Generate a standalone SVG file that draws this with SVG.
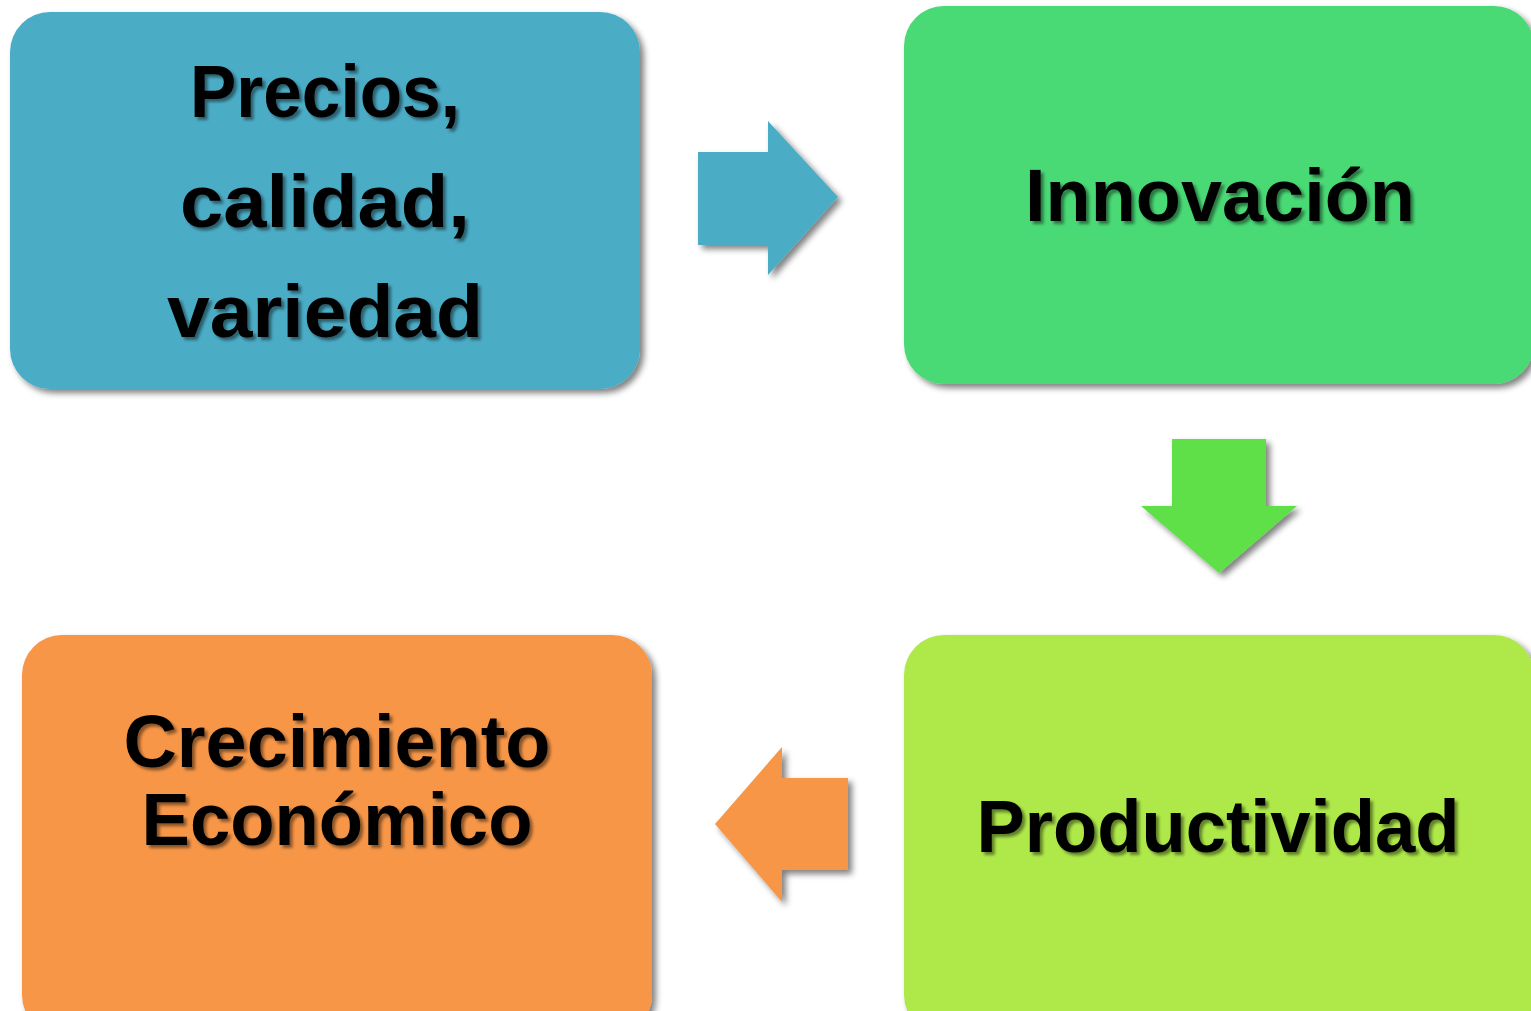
<svg xmlns="http://www.w3.org/2000/svg" width="1531" height="1011" viewBox="0 0 1531 1011">
<defs>
<filter id="sh" x="-10%" y="-10%" width="130%" height="130%">
<feGaussianBlur in="SourceAlpha" stdDeviation="3"/>
<feOffset dx="4" dy="4" result="o"/>
<feComponentTransfer><feFuncA type="linear" slope="0.5"/></feComponentTransfer>
<feMerge><feMergeNode/><feMergeNode in="SourceGraphic"/></feMerge>
</filter>
<filter id="tsh" x="-10%" y="-20%" width="130%" height="150%">
<feGaussianBlur in="SourceAlpha" stdDeviation="1.5"/>
<feOffset dx="3" dy="3" result="o"/>
<feComponentTransfer><feFuncA type="linear" slope="0.45"/></feComponentTransfer>
<feMerge><feMergeNode/><feMergeNode in="SourceGraphic"/></feMerge>
</filter>
</defs>
<style>
text{font-family:"Liberation Sans",Arial,sans-serif;font-weight:bold;font-size:75px;fill:#000;text-anchor:middle;filter:url(#tsh)}
.box{filter:url(#sh)}
</style>
<rect width="1531" height="1011" fill="#fff"/>
<g id="connectors">
<polygon class="box" fill="#4BACC6" points="698,152 768,152 768,121 838,197 768,275 768,245 698,245"/>
<polygon class="box" fill="#5FE04A" points="1172,439 1266,439 1266,506 1297,506 1219,573 1141,506 1172,506"/>
<polygon class="box" fill="#F79646" points="848,778 782,778 782,747 715,824 782,902 782,870 848,870"/>
</g>
<g id="n1">
<rect class="box" x="10" y="12" width="630" height="377" rx="40" fill="#4BACC6"/>
<text x="325" y="117" textLength="270" lengthAdjust="spacingAndGlyphs">Precios,</text>
<text x="325" y="227" textLength="290" lengthAdjust="spacingAndGlyphs">calidad,</text>
<text x="325" y="337" textLength="316" lengthAdjust="spacingAndGlyphs">variedad</text>
</g>
<g id="n2">
<rect class="box" x="904" y="6" width="630" height="378" rx="40" fill="#4AD974"/>
<text x="1220" y="221" textLength="390" lengthAdjust="spacingAndGlyphs">Innovación</text>
</g>
<g id="n3">
<rect class="box" x="904" y="635" width="630" height="400" rx="40" fill="#AEE94A"/>
<text x="1218" y="852" textLength="483" lengthAdjust="spacingAndGlyphs">Productividad</text>
</g>
<g id="n4">
<rect class="box" x="22" y="635" width="630" height="400" rx="40" fill="#F79646"/>
<text x="337" y="767" textLength="427" lengthAdjust="spacingAndGlyphs">Crecimiento</text>
<text x="337" y="845" textLength="391" lengthAdjust="spacingAndGlyphs">Económico</text>
</g>
</svg>
